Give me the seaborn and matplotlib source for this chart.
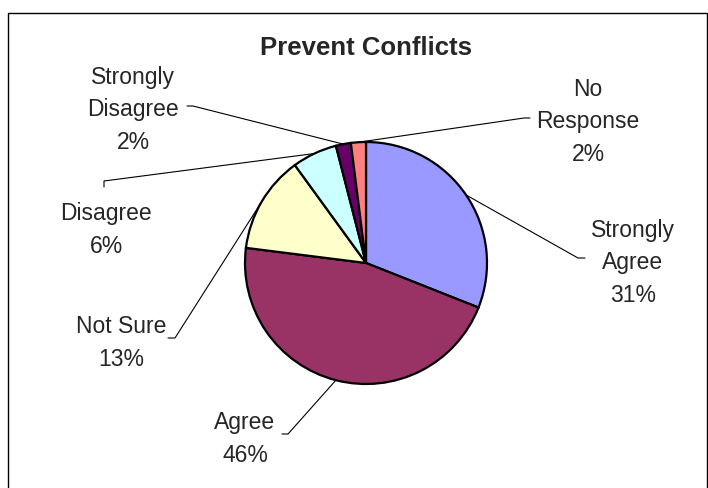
"""
Prevent Conflicts - survey response pie chart
"""

import numpy as np
import matplotlib
matplotlib.use('Agg')
import matplotlib.pyplot as plt
import seaborn as sns

# ── Data ───────────────────────────────────────────────────────────────────
categories = ['Strongly Agree', 'Agree', 'Not Sure', 'Disagree',
              'Strongly Disagree', 'No Response']
label_names = ['Strongly\nAgree', 'Agree', 'Not Sure', 'Disagree',
               'Strongly\nDisagree', 'No\nResponse']
shares = [31, 46, 13, 6, 2, 2]
colors = ['#9999FF', '#993366', '#FFFFCC', '#CCFFFF', '#660066', '#FF8080']
title = 'Prevent Conflicts'

# ── Style ──────────────────────────────────────────────────────────────────
sns.set_theme(style='white')
plt.rcParams['font.family'] = ['Liberation Sans', 'DejaVu Sans']

W, H = 708, 489
fig = plt.figure(figsize=(W / 100, H / 100), dpi=100)
ax = fig.add_axes([0, 0, 1, 1])

# pie geometry in pixel space (y measured from the top)
cx, cy, r = 366, 264, 121

wedges, _ = ax.pie(shares, colors=colors, startangle=90, counterclock=False,
                   center=(cx, H - cy), radius=r,
                   wedgeprops={'edgecolor': 'black', 'linewidth': 1.6})
ax.set_xlim(0, W)
ax.set_ylim(0, H)
ax.set_aspect('equal')
ax.axis('off')

# ── Labels & leader lines ──────────────────────────────────────────────────
# text centre (x, y from top), leader anchor, leader elbow
label_layout = {
    'Strongly Agree':    ((633, 263), (585, 259), (578, 259)),
    'Agree':             ((245, 439), (282, 435), (288, 435)),
    'Not Sure':          ((121, 343), (168, 339), (175, 339)),
    'Disagree':          ((106, 230), (104, 188), (104, 182)),
    'Strongly Disagree': ((133, 110), (187, 107), (193, 107)),
    'No Response':       ((588, 122), (530, 119), (524, 119)),
}

cum = np.cumsum([0] + shares)
total = float(sum(shares))
for i, cat in enumerate(categories):
    mid = 90 - (cum[i] + shares[i] / 2) / total * 360
    px = cx + r * np.cos(np.radians(mid))
    py = cy - r * np.sin(np.radians(mid))
    (tx, ty), (ax_, ay_), (ex, ey) = label_layout[cat]
    ax.plot([px, ex, ax_], [H - py, H - ey, H - ay_], color='black', lw=0.8)
    ax.text(tx, H - ty, f'{label_names[i]}\n{shares[i]}%', ha='center',
            va='center', fontsize=16.5, linespacing=1.52)

ax.text(cx, H - 48, title, ha='center', va='center',
        fontsize=18.5, fontweight='bold')

# chart frame (bottom edge is cropped off in the original)
ax.plot([8, 8, 706.5, 706.5], [0, H - 14, H - 14, 0], color='black', lw=1.0,
        clip_on=False)

plt.savefig('out.png', dpi=100)
plt.close()
